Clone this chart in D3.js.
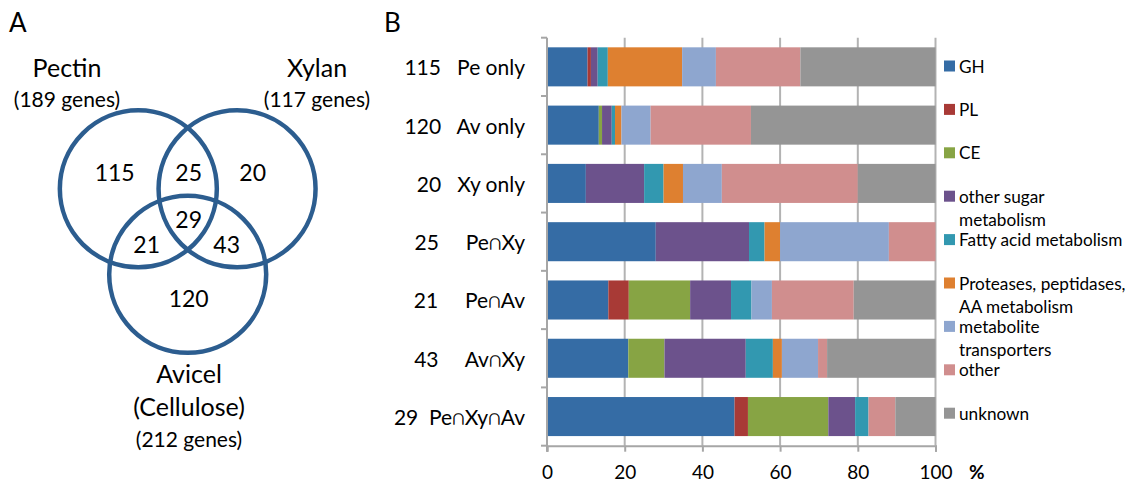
<!DOCTYPE html>
<html>
<head>
<meta charset="utf-8">
<script src="https://cdn.jsdelivr.net/npm/d3@7"></script>
<style>
body { margin: 0; background: #fff; }
text { font-family: Lato, "Open Sans", sans-serif; fill: #000; }
</style>
</head>
<body>
<svg width="1129" height="483"></svg>
<script>
// ---- data ----
var groupLabels = ['115   Pe only', '120   Av only', '20   Xy only', '25     Pe\u2229Xy',
                   '21     Pe\u2229Av', '43     Av\u2229Xy', '29  Pe\u2229Xy\u2229Av'];
var categories = ['GH', 'PL', 'CE', 'other sugar metabolism', 'Fatty acid metabolism',
                  'Proteases, peptidases, AA metabolism', 'metabolite transporters', 'other', 'unknown'];
var legendLines = [['GH'], ['PL'], ['CE'], ['other sugar', 'metabolism'], ['Fatty acid metabolism'],
                   ['Proteases, peptidases,', 'AA metabolism'], ['metabolite', 'transporters'], ['other'], ['unknown']];
var colors = ['#356ca5', '#a83a36', '#87a444', '#6c528c', '#3298b0', '#de8030', '#8ea6cf', '#d08e8e', '#959595'];

// gene counts per category, one value per group (same order as groupLabels)
var GH      = [12, 16, 2, 7, 3, 9, 14];
var PL      = [1, 0, 0, 0, 1, 0, 1];
var CE      = [0, 1, 0, 0, 3, 4, 6];
var sugar   = [2, 3, 3, 6, 2, 9, 2];
var fatty   = [3, 1, 1, 1, 1, 3, 1];
var prot    = [22, 2, 1, 1, 0, 1, 0];
var trans   = [10, 9, 2, 7, 1, 4, 0];
var other   = [25, 31, 7, 3, 4, 1, 2];
var unknown = [40, 57, 4, 0, 4, 12, 3];
var xTicks = [0, 20, 40, 60, 80, 100];

// venn
var setNames = ['Pectin', 'Xylan', 'Avicel'];
var setSizes = ['(189 genes)', '(117 genes)', '(212 genes)'];
var regionCounts = [115, 20, 120, 25, 21, 43, 29]; // Pe, Xy, Av, Pe∩Xy, Pe∩Av, Av∩Xy, all

var svg = d3.select('svg');

// panel letters
svg.append('text').attr('x', 9).attr('y', 32).style('font-size', '26px').text('A');
svg.append('text').attr('x', 384).attr('y', 32).style('font-size', '26px').text('B');

// ================= Venn =================
function venn(svg) {
    var cx = 187.7, cy = 217.3, d = 57, r = 78.5;
    var angles = [-150, -30, 90];
    var centers = angles.map(function (a) {
        var t = a * Math.PI / 180;
        return [cx + d * Math.cos(t), cy + d * Math.sin(t)];
    });
    var g = svg.append('g');
    g.selectAll('circle')
        .data(centers)
        .enter().append('circle')
        .attr('cx', function (c) { return c[0]; })
        .attr('cy', function (c) { return c[1]; })
        .attr('r', r)
        .attr('fill', 'none')
        .attr('stroke', '#2c5d8f')
        .attr('stroke-width', 4.5);

    // region label offsets from venn centre
    var spots = [[-73, -45], [65, -45], [1, 81], [1, -45], [-41, 27], [39, 27], [1, 2]];
    g.selectAll('text.num')
        .data(regionCounts)
        .enter().append('text')
        .attr('class', 'num')
        .attr('x', function (v, i) { return cx + spots[i][0]; })
        .attr('y', function (v, i) { return cy + spots[i][1]; })
        .attr('text-anchor', 'middle')
        .attr('dominant-baseline', 'central')
        .style('font-size', '23px')
        .text(function (v) { return v; });

    var nameSpots = [[67, 77, 107], [317, 77, 107], [189, 383, 447]];
    setNames.forEach(function (n, i) {
        g.append('text').attr('x', nameSpots[i][0]).attr('y', nameSpots[i][1])
            .attr('text-anchor', 'middle').style('font-size', '25px').text(n);
        g.append('text').attr('x', nameSpots[i][0]).attr('y', nameSpots[i][2])
            .attr('text-anchor', 'middle').style('font-size', '21px').text(setSizes[i]);
    });
    g.append('text').attr('x', 189).attr('y', 416)
        .attr('text-anchor', 'middle').style('font-size', '25px').text('(Cellulose)');
}
venn(svg);

// ================= stacked bars =================
function bars(svg) {
    var series = [GH, PL, CE, sugar, fatty, prot, trans, other, unknown];
    var rows = groupLabels.map(function (lab, i) {
        var row = { label: lab };
        var tot = d3.sum(series, function (s) { return s[i]; });
        categories.forEach(function (c, k) { row[c] = series[k][i] / tot * 100; });
        return row;
    });

    var left = 547, right = 935.5, top = 37.7, bottom = 445.7;
    var x = d3.scaleLinear().domain([0, 100]).range([left, right]);
    var y = d3.scaleBand().domain(groupLabels).range([top, bottom]).paddingInner(0.33).paddingOuter(0.165);

    // gridlines
    svg.append('g').selectAll('line')
        .data(xTicks.slice(1))
        .enter().append('line')
        .attr('x1', function (d) { return x(d); })
        .attr('x2', function (d) { return x(d); })
        .attr('y1', top).attr('y2', bottom)
        .attr('stroke', '#b3b3b3').attr('stroke-width', 2);

    var stack = d3.stack().keys(categories)(rows);
    svg.append('g').selectAll('g')
        .data(stack)
        .enter().append('g')
        .attr('fill', function (d, i) { return colors[i]; })
        .selectAll('rect')
        .data(function (d) { return d; })
        .enter().append('rect')
        .attr('x', function (d) { return x(d[0]); })
        .attr('width', function (d) { return x(d[1]) - x(d[0]); })
        .attr('y', function (d) { return y(d.data.label); })
        .attr('height', y.bandwidth());

    // x axis
    var xAxis = d3.axisBottom(x).tickValues(xTicks).tickSize(6).tickPadding(14);
    var gx = svg.append('g').attr('transform', 'translate(0,' + bottom + ')').call(xAxis);
    gx.select('.domain').attr('stroke', '#a6a6a6').attr('stroke-width', 2);
    gx.selectAll('.tick line').attr('stroke', '#a6a6a6').attr('stroke-width', 2);
    gx.selectAll('.tick text').style('font-size', '19px').style('font-family', 'Lato, sans-serif').attr('fill', '#000');

    svg.append('text').attr('x', 969).attr('y', 479).style('font-size', '19px').style('font-weight', 'bold').text('%');

    // y axis: line + ticks at band boundaries
    var gy = svg.append('g');
    gy.append('line').attr('x1', left).attr('x2', left).attr('y1', top).attr('y2', bottom + 6)
        .attr('stroke', '#a6a6a6').attr('stroke-width', 2);
    var step = y.step();
    gy.selectAll('line.tk')
        .data(d3.range(groupLabels.length + 1))
        .enter().append('line').attr('class', 'tk')
        .attr('x1', left - 6).attr('x2', left)
        .attr('y1', function (i) { return top + i * step; })
        .attr('y2', function (i) { return top + i * step; })
        .attr('stroke', '#a6a6a6').attr('stroke-width', 2);
    gy.selectAll('text')
        .data(groupLabels)
        .enter().append('text')
        .attr('x', 525)
        .attr('y', function (d) { return y(d) + y.bandwidth() / 2; })
        .attr('text-anchor', 'end')
        .attr('dominant-baseline', 'central')
        .style('white-space', 'pre')
        .style('font-size', '21px')
        .text(function (d) { return d; });

    // legend
    var lg = svg.append('g').selectAll('g')
        .data(legendLines)
        .enter().append('g')
        .attr('transform', function (d, i) { return 'translate(944,' + (66 + i * 43.4) + ')'; });
    lg.append('rect').attr('x', 0).attr('y', -5.5).attr('width', 11).attr('height', 11)
        .attr('fill', function (d, i) { return colors[i]; });
    lg.selectAll('text')
        .data(function (d) { return d; })
        .enter().append('text')
        .attr('x', 15)
        .attr('y', function (d, j) { return j * 23; })
        .attr('dominant-baseline', 'central')
        .style('font-size', '17.2px')
        .text(function (d) { return d; });
}
bars(svg);
</script>
</body>
</html>
